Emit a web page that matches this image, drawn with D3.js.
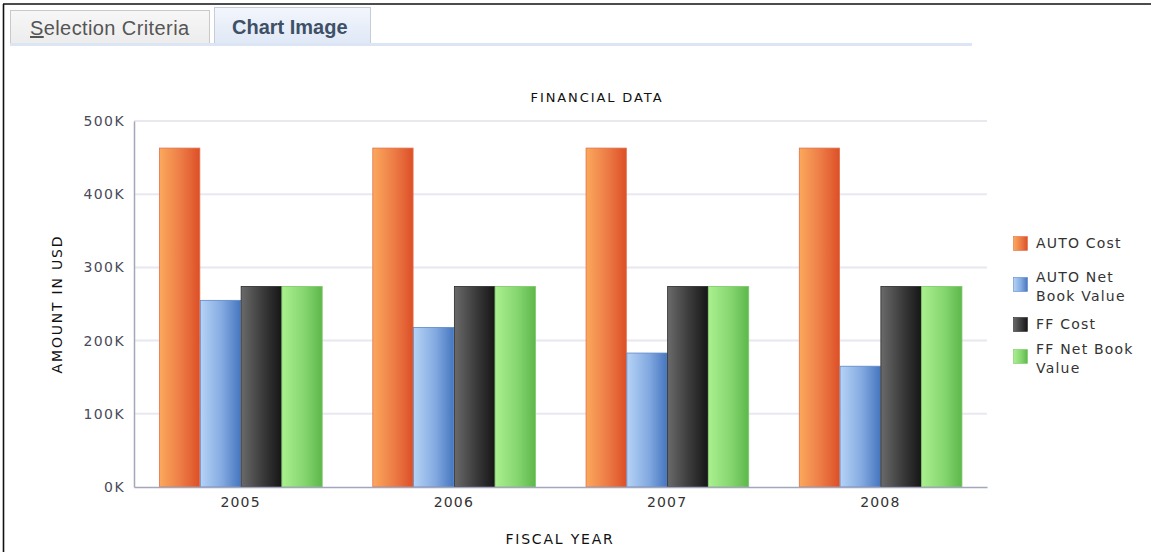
<!DOCTYPE html>
<html>
<head>
<meta charset="utf-8">
<script src="https://cdn.jsdelivr.net/npm/d3@7"></script>
<style>
  html, body { margin: 0; padding: 0; background: #fff; }
  svg { display: block; }
</style>
</head>
<body>
<svg id="chart" width="1151" height="552"></svg>
<script>
// Fiscal years on the x axis
const years = ["2005", "2006", "2007", "2008"];
// Series names (legend order)
const seriesNames = ["AUTO Cost", "AUTO Net Book Value", "FF Cost", "FF Net Book Value"];
// Values in USD per series
const autoCost = [463000, 463000, 463000, 463000];
const autoNetBookValue = [255000, 218000, 183000, 165000];
const ffCost = [274000, 274000, 274000, 274000];
const ffNetBookValue = [274000, 274000, 274000, 274000];
// Y axis tick values
const yTicks = [0, 100000, 200000, 300000, 400000, 500000];

const seriesValues = [autoCost, autoNetBookValue, ffCost, ffNetBookValue];
const seriesGradients = [
  ["#fba85c", "#ec7a45", "#dd4f27"],
  ["#b6d3f6", "#82a9e0", "#4676bf"],
  ["#6a6a6a", "#3a3a3a", "#161616"],
  ["#aaf08f", "#86d670", "#5db84b"]
];
const seriesStroke = ["#e0704a", "#5d88c8", "#2a2a2a", "#7cc868"];
// Legend lines (wrapped labels)
const legendLines = [["AUTO Cost"], ["AUTO Net", "Book Value"], ["FF Cost"], ["FF Net Book", "Value"]];

const svg = d3.select("#chart");
const W = 1151, H = 552;
const font = "'DejaVu Sans', Verdana, sans-serif";

svg.append("rect").attr("width", W).attr("height", H).attr("fill", "#fff");

// Page frame
svg.append("line").attr("x1", 3).attr("x2", W).attr("y1", 4).attr("y2", 4)
  .attr("stroke", "#111").attr("stroke-width", 1.6);
svg.append("line").attr("x1", 3.5).attr("x2", 3.5).attr("y1", 4).attr("y2", H)
  .attr("stroke", "#111").attr("stroke-width", 1.6);

// Tabs
const defs = svg.append("defs");
const tabGrey = defs.append("linearGradient").attr("id", "tabGrey").attr("x1", 0).attr("x2", 0).attr("y1", 0).attr("y2", 1);
tabGrey.append("stop").attr("offset", "0%").attr("stop-color", "#f7f7f7");
tabGrey.append("stop").attr("offset", "100%").attr("stop-color", "#ececec");
const tabBlue = defs.append("linearGradient").attr("id", "tabBlue").attr("x1", 0).attr("x2", 0).attr("y1", 0).attr("y2", 1);
tabBlue.append("stop").attr("offset", "0%").attr("stop-color", "#f3f6fc");
tabBlue.append("stop").attr("offset", "100%").attr("stop-color", "#dfe8f6");

svg.append("rect").attr("x", 10.5).attr("y", 10.5).attr("width", 199).attr("height", 34)
  .attr("fill", "url(#tabGrey)").attr("stroke", "#c9c9c9");
svg.append("rect").attr("x", 214.5).attr("y", 7.5).attr("width", 156).attr("height", 37)
  .attr("fill", "url(#tabBlue)").attr("stroke", "#c6cdd8");
svg.append("rect").attr("x", 10).attr("y", 43).attr("width", 962).attr("height", 3)
  .attr("fill", "#dce5f4");

const tab1 = svg.append("text").attr("x", 30).attr("y", 35)
  .attr("font-family", "'Liberation Sans', Arial, sans-serif").attr("font-size", 20)
  .attr("letter-spacing", 0.4).attr("fill", "#555");
tab1.append("tspan").attr("text-decoration", "underline").text("S");
tab1.append("tspan").text("election Criteria");
svg.append("text").attr("x", 232).attr("y", 34)
  .attr("font-family", "'Liberation Sans', Arial, sans-serif").attr("font-size", 20)
  .attr("font-weight", "bold").attr("fill", "#3e5066").text("Chart Image");

// Plot area
const x0 = 134, x1 = 987, yTop = 121, yBot = 487;
const y = d3.scaleLinear().domain([0, 500000]).range([yBot, yTop]);
const xBand = d3.scaleBand().domain(years).range([x0, x1]).paddingInner(0.235).paddingOuter(0.1175);
const xInner = d3.scaleBand().domain(d3.range(seriesNames.length)).range([0, xBand.bandwidth()]);

// Bar gradients
seriesGradients.forEach((stops, i) => {
  const g = defs.append("linearGradient").attr("id", "bar" + i).attr("x1", 0).attr("x2", 1).attr("y1", 0).attr("y2", 0);
  g.append("stop").attr("offset", "0%").attr("stop-color", stops[0]);
  g.append("stop").attr("offset", "55%").attr("stop-color", stops[1]);
  g.append("stop").attr("offset", "100%").attr("stop-color", stops[2]);
});

// Gridlines
svg.append("g").selectAll("line").data(yTicks.filter(d => d > 0)).join("line")
  .attr("x1", x0).attr("x2", x1)
  .attr("y1", d => y(d)).attr("y2", d => y(d))
  .attr("stroke", "#e8e8f0").attr("stroke-width", 2);

// Y axis
const yAxis = svg.append("g").attr("transform", `translate(${x0},0)`)
  .call(d3.axisLeft(y).tickValues(yTicks).tickSize(0).tickPadding(9)
    .tickFormat(d => (d / 1000) + "K"));
yAxis.select(".domain").attr("stroke", "#a4a6bc").attr("stroke-width", 1.5);
yAxis.selectAll("text").attr("font-family", font).attr("font-size", 14)
  .attr("letter-spacing", 1.4).attr("fill", "#4a4a5a");

// Bars
const groups = svg.append("g").selectAll("g").data(years).join("g")
  .attr("transform", d => `translate(${xBand(d)},0)`);
groups.selectAll("rect").data((yr, yi) => seriesValues.map((vals, si) => ({ si, v: vals[yi] })))
  .join("rect")
  .attr("x", d => xInner(d.si) + 0.5)
  .attr("width", xInner.bandwidth() - 0.5)
  .attr("y", d => y(d.v))
  .attr("height", d => yBot - y(d.v))
  .attr("fill", d => `url(#bar${d.si})`)
  .attr("stroke", d => seriesStroke[d.si]).attr("stroke-width", 0.8);

// X axis
const xAxis = svg.append("g").attr("transform", `translate(0,${yBot})`)
  .call(d3.axisBottom(xBand).tickSize(0).tickPadding(10));
xAxis.select(".domain").attr("stroke", "#a4a6bc").attr("stroke-width", 1.5);
xAxis.selectAll("text").attr("font-family", font).attr("font-size", 14)
  .attr("letter-spacing", 1.2).attr("fill", "#333");

// Titles
svg.append("text").attr("x", 597).attr("y", 102).attr("text-anchor", "middle")
  .attr("font-family", font).attr("font-size", 13).attr("letter-spacing", 1.9)
  .attr("fill", "#111").text("FINANCIAL DATA");
svg.append("text").attr("x", 560).attr("y", 544).attr("text-anchor", "middle")
  .attr("font-family", font).attr("font-size", 14).attr("letter-spacing", 1.8)
  .attr("fill", "#111").text("FISCAL YEAR");
svg.append("text").attr("transform", "translate(62,304) rotate(-90)").attr("text-anchor", "middle")
  .attr("font-family", font).attr("font-size", 14).attr("letter-spacing", 1.8)
  .attr("fill", "#111").text("AMOUNT IN USD");

// Legend
const legendTop = [236, 277, 317, 349];
const legend = svg.append("g");
seriesNames.forEach((name, i) => {
  const g = legend.append("g").attr("transform", `translate(1013,${legendTop[i]})`);
  g.append("rect").attr("x", 0.5).attr("y", 0.5).attr("width", 14).attr("height", 14)
    .attr("fill", `url(#bar${i})`).attr("stroke", seriesStroke[i]).attr("stroke-width", 0.6);
  const lines = legendLines[i];
  lines.forEach((ln, li) => {
    g.append("text").attr("x", 23).attr("y", (lines.length === 1 ? 12 : 5) + li * 19)
      .attr("font-family", font).attr("font-size", 14).attr("letter-spacing", 1.2)
      .attr("fill", "#333").text(ln);
  });
});
</script>
</body>
</html>
